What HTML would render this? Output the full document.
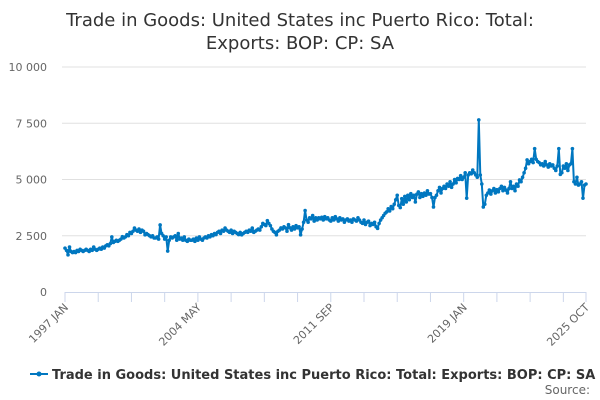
<!DOCTYPE html>
<html><head><meta charset="utf-8"><style>
body{margin:0;background:#fff;font-family:"DejaVu Sans","Liberation Sans",sans-serif;}
svg{display:block}
</style></head><body>
<svg id="chart" width="600" height="400">
<text x="300" y="26" text-anchor="middle" font-size="18" fill="#333">Trade in Goods: United States inc Puerto Rico: Total:</text>
<text x="300" y="49" text-anchor="middle" font-size="18" fill="#333">Exports: BOP: CP: SA</text>
<g id="grid"></g><g id="xaxis"></g><g id="series"></g>
<g>
<line x1="30" y1="374" x2="48" y2="374" stroke="#0077c0" stroke-width="2"/>
<circle cx="39" cy="374" r="2.5" fill="#0077c0"/>
<text x="52" y="379" font-size="13" font-weight="bold" fill="#333">Trade in Goods: United States inc Puerto Rico: Total: Exports: BOP: CP: SA</text>
</g>
<text x="590" y="394" text-anchor="end" font-size="12" fill="#666">Source:</text>
</svg>
<script>
const yTicks=[0,2500,5000,7500,10000];
const yTickLabels=["0","2 500","5 000","7 500","10 000"];
const xLabels=["1997 JAN","2004 MAY","2011 SEP","2019 JAN","2025 OCT"];
const xLabelIdx=[0,88,176,264,345];
const values=[
/*1997*/1950,1850,1650,2000,1800,1750,1800,1750,1850,1800,1900,1850,
/*1998*/1800,1850,1900,1850,1800,1900,1850,2000,1900,1850,1900,1950,
/*1999*/1900,2000,1950,2050,2100,2050,2150,2450,2200,2250,2300,2250,
/*2000*/2300,2350,2460,2400,2450,2550,2500,2650,2600,2700,2840,2750,
/*2001*/2700,2800,2650,2750,2700,2540,2600,2550,2500,2450,2500,2400,
/*2002*/2400,2450,2350,2980,2600,2500,2350,2450,1820,2300,2450,2400,
/*2003*/2450,2500,2300,2600,2350,2400,2300,2450,2300,2250,2350,2300,
/*2004*/2300,2350,2250,2400,2300,2450,2350,2300,2400,2450,2400,2500,
/*2005*/2450,2550,2500,2600,2550,2650,2700,2600,2750,2700,2840,2750,
/*2006*/2700,2650,2750,2600,2700,2650,2600,2550,2650,2540,2600,2650,
/*2007*/2700,2650,2750,2700,2840,2650,2700,2750,2800,2750,2900,3050,
/*2008*/3000,2950,3170,3050,2950,2800,2700,2650,2540,2700,2750,2850,
/*2009*/2800,2900,2850,2700,2990,2850,2750,2900,2800,2950,2850,2900,
/*2010*/2540,2800,3100,3620,3200,3100,3300,3250,3400,3150,3300,3200,
/*2011*/3300,3250,3320,3200,3350,3250,3300,3200,3150,3300,3200,3350,
/*2012*/3250,3150,3300,3200,3250,3100,3200,3250,3150,3200,3100,3250,
/*2013*/3200,3150,3300,3200,3100,3050,3200,3000,3100,3150,2950,3050,
/*2014*/3000,3100,2900,2830,3050,3200,3300,3400,3500,3560,3700,3600,
/*2015*/3800,3700,3900,4100,4300,3850,3750,4150,3900,4250,4000,4300,
/*2016*/4100,4370,4200,4300,4000,4350,4450,4200,4370,4250,4400,4300,
/*2017*/4500,4350,4370,4200,3780,4200,4300,4500,4650,4400,4600,4700,
/*2018*/4600,4800,4700,4900,4650,4800,5000,4850,5050,5000,5170,5000,
/*2019*/5100,5300,4170,5200,5300,5250,5420,5300,5200,5100,7650,5200,
/*2020*/4800,3780,3900,4300,4400,4530,4350,4500,4600,4400,4550,4450,
/*2021*/4600,4700,4500,4650,4530,4400,4600,4900,4600,4700,4500,4800,
/*2022*/4700,4980,4900,5100,5300,5500,5870,5700,5800,5900,5750,6370,
/*2023*/5900,5800,5750,5650,5700,5600,5800,5650,5550,5700,5600,5650,
/*2024*/5500,5400,5600,6370,5230,5300,5600,5500,5700,5400,5650,5700,
/*2025*/6370,4900,4800,5100,4750,4800,4900,4170,4750,4800];
const X0=65,X1=586,Y0=292,Y1=67;
const xPos=i=>X0+(X1-X0)*i/(values.length-1);
const yPos=v=>Y0+(Y1-Y0)*v/10000;
const NS="http://www.w3.org/2000/svg";
function mk(t,a,p){const e=document.createElementNS(NS,t);for(const k in a)e.setAttribute(k,a[k]);p.appendChild(e);return e;}
const grid=document.getElementById('grid');
yTicks.forEach((v,i)=>{
 if(v>0){const l=mk('line',{x1:X0-3,x2:X1,y1:yPos(v),y2:yPos(v),stroke:'#e0e0e0','stroke-width':1},grid);
 
 }
 const t=mk('text',{x:47,y:yPos(v)+4,'text-anchor':'end','font-size':11,fill:'#666'},grid);
 t.textContent=yTickLabels[i];
 
 
});
const xa=document.getElementById('xaxis');
const al=mk('line',{x1:X0,x2:X1,y1:Y0+0.5,y2:Y0+0.5,stroke:'#ccd6eb','stroke-width':1},xa);


for(let i=0;i<values.length;i+=22){
 const tk=mk('line',{x1:xPos(i),x2:xPos(i),y1:Y0,y2:Y0+10,stroke:'#ccd6eb'},xa);
 
 
}
const tkEnd=mk('line',{x1:X1,x2:X1,y1:Y0,y2:Y0+10,stroke:'#ccd6eb'},xa);


xLabels.forEach((s,i)=>{
 const x=xPos(xLabelIdx[i]);
 const t=mk('text',{x:x+4,y:Y0+16,'text-anchor':'end','font-size':11,fill:'#666',transform:`rotate(-45 ${x+4} ${Y0+16})`},xa);
 t.textContent=s;
 
 
});
const sg=document.getElementById('series');
const pts=values.map((v,i)=>xPos(i).toFixed(1)+','+yPos(v).toFixed(1)).join(' ');
const pl=mk('polyline',{points:pts,fill:'none',stroke:'#0077c0','stroke-width':2,'stroke-linejoin':'round'},sg);


values.forEach((v,i)=>{
 const c=mk('circle',{cx:xPos(i),cy:yPos(v),r:1.8,fill:'#0077c0'},sg);
 
 
});
</script>
</body></html>
